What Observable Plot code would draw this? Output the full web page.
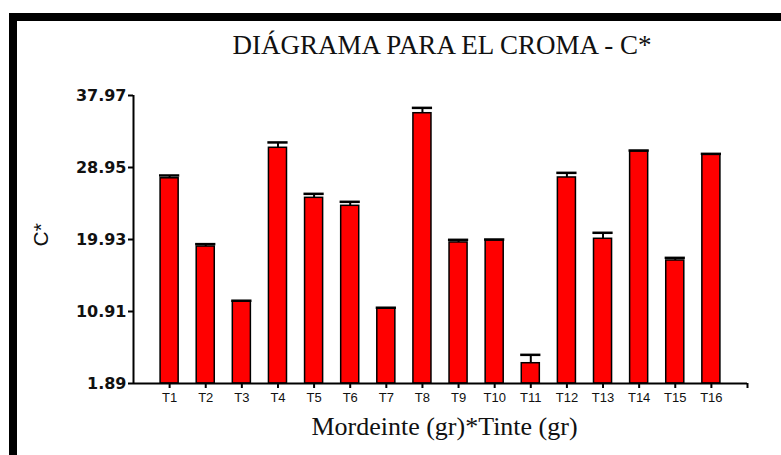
<!DOCTYPE html>
<html>
<head>
<meta charset="utf-8">
<script src="https://cdn.jsdelivr.net/npm/d3@7"></script>
<script src="https://cdn.jsdelivr.net/npm/@observablehq/plot@0.6"></script>
<style>
  html, body { margin: 0; padding: 0; background: #fff; }
  #wrap { position: relative; width: 781px; height: 455px; overflow: hidden; }
  #frame { position: absolute; left: 9px; top: 13px; width: 800px; height: 460px;
           border-top: 8px solid #000; border-left: 8px solid #000; box-sizing: border-box; }
  #chart { position: absolute; left: 0; top: 0; }
</style>
</head>
<body>
<div id="wrap"><div id="frame"></div><div id="chart"></div></div>
<script>
const categories = ["T1","T2","T3","T4","T5","T6","T7","T8","T9","T10","T11","T12","T13","T14","T15","T16"];
const values = [27.6, 19.05, 12.16, 31.42, 25.15, 24.15, 11.32, 35.75, 19.56, 19.81, 4.43, 27.7, 20.02, 30.96, 17.3, 30.54];
const errors = [0.35, 0.3, 0.1, 0.67, 0.5, 0.5, 0.06, 0.67, 0.33, 0.12, 1.05, 0.58, 0.75, 0.12, 0.33, 0.12];
const yTicks = [1.89, 10.91, 19.93, 28.95, 37.97];
const title = "DIÁGRAMA PARA EL CROMA - C*";
const xTitle = "Mordeinte (gr)*Tinte (gr)";
const yTitle = "C*";

const data = categories.map((c, i) => ({cat: c, pos: i + 1, v: values[i], e: errors[i]}));
const yMin = yTicks[0], yMax = yTicks[yTicks.length - 1];

const chart = Plot.plot({
  width: 781,
  height: 455,
  marginLeft: 133,
  marginRight: 34,
  marginTop: 95,
  marginBottom: 72,
  style: {background: "transparent", overflow: "visible"},
  x: {type: "linear", domain: [0, categories.length + 1], axis: null},
  y: {domain: [yMin, yMax], axis: null},
  marks: [
    Plot.rect(data, {x1: d => d.pos - 0.25, x2: d => d.pos + 0.25, y1: yMin, y2: "v",
      fill: "#ff0000", stroke: "#000", strokeWidth: 1.5}),
    Plot.ruleX(data, {x: "pos", y1: "v", y2: d => d.v + d.e, stroke: "#000", strokeWidth: 2}),
    Plot.ruleY(data, {y: d => d.v + d.e, x1: d => d.pos - 0.28, x2: d => d.pos + 0.28, stroke: "#000", strokeWidth: 2.5}),
    Plot.ruleX([0], {y1: yMin, y2: yMax, stroke: "#000", strokeWidth: 2}),
    Plot.ruleY([yMin], {x1: 0, x2: categories.length + 1, stroke: "#000", strokeWidth: 2}),
    Plot.axisY(yTicks, {tickSize: 5, tickPadding: 2, strokeWidth: 2, label: null,
      tickFormat: d => d.toFixed(2), fontFamily: "DejaVu Sans", fontWeight: "bold", fontSize: 16, fill: "#111"}),
    Plot.axisX(d3.range(1, categories.length + 2), {tickSize: 5, tickPadding: 4, strokeWidth: 2, label: null,
      tickFormat: i => categories[i - 1] ?? "", fontFamily: "Liberation Sans", fontSize: 13, fill: "#111"}),
    Plot.text([title], {frameAnchor: "top", dx: 1.5, dy: -61, fontFamily: "Liberation Serif", fontSize: 27, fill: "#111"}),
    Plot.text([xTitle], {frameAnchor: "bottom", dx: 4, dy: 51, fontFamily: "Liberation Serif", fontSize: 26, fill: "#111"}),
    Plot.text([yTitle], {frameAnchor: "left", dx: -92.4, dy: 7, rotate: -90, fontFamily: "Liberation Sans", fontSize: 21, fill: "#111"})
  ]
});
document.getElementById("chart").appendChild(chart);
</script>
</body>
</html>
